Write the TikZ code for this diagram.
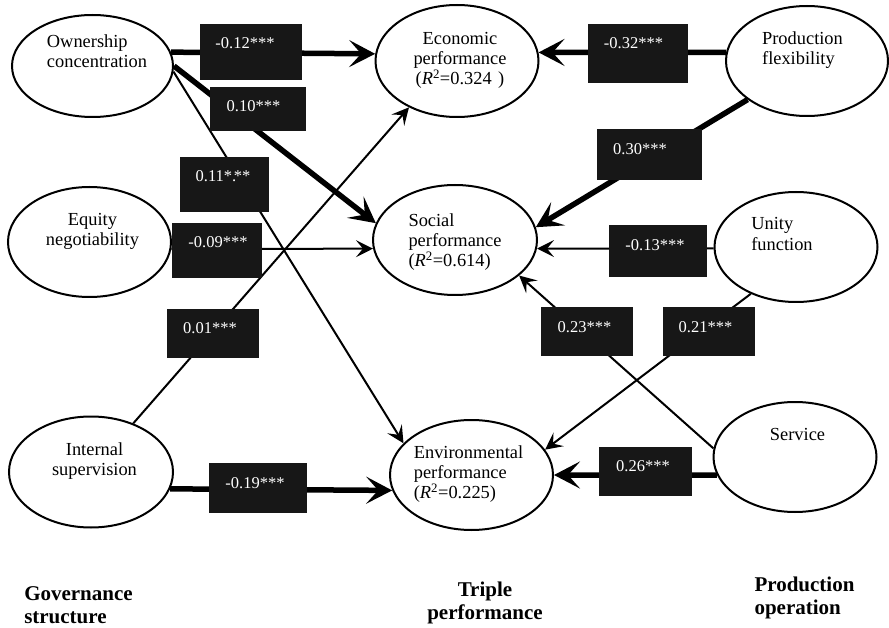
\documentclass[tikz,border=0pt]{standalone}
\usepackage{fontspec}
\setmainfont{Liberation Serif}
\usetikzlibrary{arrows.meta,shapes.geometric}

\tikzset{
  var/.style={ellipse, draw, line width=2pt, fill=white, inner sep=0pt},
  vtext/.style={font=\fontsize{18.4}{20.2}\selectfont, inner sep=0pt},
  coef/.style={rectangle, fill=black!91, draw=none, inner sep=0pt},
  ctext/.style={font=\fontsize{16.5}{18}\selectfont, text=white, inner sep=0pt},
  thin link/.style={line width=2pt, -{Stealth[length=17pt,width=17pt,inset=7pt]}},
  thick link/.style={line width=5.5pt, -{Stealth[length=26pt,width=27pt,inset=12pt]}},
  group/.style={font=\bfseries\fontsize{21}{23}\selectfont, inner sep=0pt},
}
\newcommand{\Rsq}[1]{(\textit{R}\textsuperscript{2}=#1}

\begin{document}
\begin{tikzpicture}[x=1pt,y=-1pt]
\fill[white] (0,0) rectangle (889,628);
\useasboundingbox (0,0) rectangle (889,628);

% latent variables
\node[var, minimum width=161pt, minimum height=102pt,
  label={[vtext, align=left, xshift=4.5pt, yshift=15pt]center:Ownership\\concentration}] (own) at (92.5,66) {};
\node[var, minimum width=163pt, minimum height=110pt,
  label={[vtext, align=center, xshift=3pt, yshift=11pt]center:Equity\\negotiability}] (eq) at (89.5,242) {};
\node[var, minimum width=164pt, minimum height=111pt,
  label={[vtext, align=center, xshift=3.5pt, yshift=11pt]center:Internal\\supervision}] (is) at (91,472) {};

\node[var, minimum width=163pt, minimum height=112pt,
  label={[vtext, align=center, xshift=3pt, yshift=0.5pt]center:Economic\\performance\\\Rsq{0.324}\kern0.35em)}] (eco) at (457,61) {};
\node[var, minimum width=164pt, minimum height=110pt,
  label={[vtext, align=left, yshift=-2pt]center:Social\\performance\\\Rsq{0.614})}] (soc) at (455,240) {};
\node[var, minimum width=163pt, minimum height=110pt,
  label={[vtext, align=left, xshift=-3pt, yshift=1pt]center:Environmental\\performance\\\Rsq{0.225})}] (env) at (471.5,475) {};

\node[var, minimum width=162pt, minimum height=110pt,
  label={[vtext, align=left, xshift=-4.5pt, yshift=11pt]center:Production\\flexibility}] (pf) at (807,61) {};
\node[var, minimum width=163pt, minimum height=110pt,
  label={[vtext, align=left, xshift=-14pt, yshift=13pt]center:Unity\\function}] (uf) at (796,247) {};
\node[var, minimum width=163pt, minimum height=110pt,
  label={[vtext, xshift=2.5pt, yshift=23pt]center:Service}] (sv) at (795,457) {};

% structural paths
\draw[thick link] (own.10)  -- (eco.175);
\draw[thick link] (own.0)   -- (soc.168);
\draw[thin link]  (own.-4)  -- (env.155);
\draw[thin link]  (eq.-5)   -- (soc.186);
\draw[thin link]  (is.49)   -- (eco.224);
\draw[thick link] (is.-12)  -- (env.191);
\draw[thick link] (pf.174)  -- (eco.6);
\draw[thick link] (pf.213)  -- (soc.9);
\draw[thin link]  (uf.181)  -- (soc.354);
\draw[thin link]  (sv.174)  -- (soc.331);
\draw[thin link]  (uf.226)  -- (env.19);
\draw[thick link] (sv.193)  -- (env.0);

% path coefficients
\node[coef, minimum width=102pt, minimum height=56pt,
  label={[ctext, xshift=-6pt, yshift=9pt]center:-0.12***}] (c1) at (251,52) {};
\node[coef, minimum width=96pt, minimum height=44pt,
  label={[ctext, xshift=-4.5pt, yshift=3pt]center:0.10***}] (c2) at (258,109) {};
\node[coef, minimum width=89pt, minimum height=55pt,
  label={[ctext, xshift=-1.5pt, yshift=8.5pt]center:0.11*.\kern-0.15em**}] (c3) at (224.5,184.5) {};
\node[coef, minimum width=90pt, minimum height=55pt,
  label={[ctext, xshift=1pt, yshift=8.5pt]center:-0.09***}] (c4) at (217,250.5) {};
\node[coef, minimum width=92pt, minimum height=49pt,
  label={[ctext, xshift=-3pt, yshift=5.5pt]center:0.01***}] (c5) at (213,333.5) {};
\node[coef, minimum width=98pt, minimum height=50pt,
  label={[ctext, xshift=-3pt, yshift=5pt]center:-0.19***}] (c6) at (258,488) {};
\node[coef, minimum width=100pt, minimum height=59pt,
  label={[ctext, xshift=-4.5pt, yshift=10.5pt]center:-0.32***}] (c7) at (638,53.5) {};
\node[coef, minimum width=105pt, minimum height=51pt,
  label={[ctext, xshift=-9.5pt, yshift=5.5pt]center:0.30***}] (c8) at (649.5,154.5) {};
\node[coef, minimum width=98pt, minimum height=52pt,
  label={[ctext, xshift=-3pt, yshift=6pt]center:-0.13***}] (c9) at (658,251) {};
\node[coef, minimum width=92pt, minimum height=49pt,
  label={[ctext, xshift=-2.5pt, yshift=4.5pt]center:0.23***}] (c10) at (587,331.5) {};
\node[coef, minimum width=92pt, minimum height=49pt,
  label={[ctext, xshift=-3.5pt, yshift=4.5pt]center:0.21***}] (c11) at (709,331.5) {};
\node[coef, minimum width=93pt, minimum height=49pt,
  label={[ctext, xshift=-2.5pt, yshift=5.5pt]center:0.26***}] (c12) at (645.5,471.5) {};

% construct groups
\node[group, align=left]   (g1) at (78.5,605) {Governance\\structure};
\node[group, align=center] (g2) at (485,603)  {Triple\\performance};
\node[group, align=left]   (g3) at (804.5,598) {Production\\operation};
\end{tikzpicture}
\end{document}
